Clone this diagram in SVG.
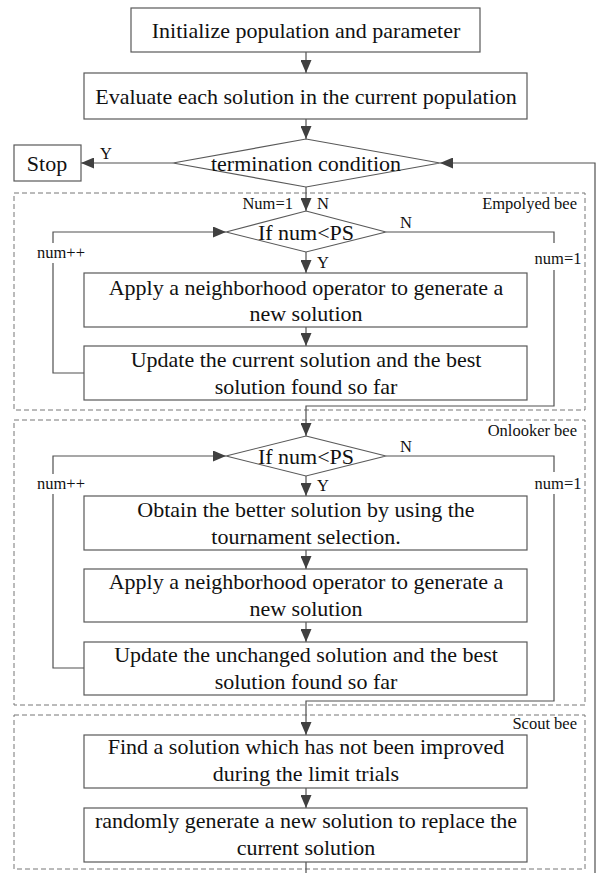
<svg xmlns="http://www.w3.org/2000/svg" width="596" height="873" viewBox="0 0 596 873">
<defs>
<marker id="arr" markerUnits="userSpaceOnUse" markerWidth="13" markerHeight="11" refX="13" refY="5.5" orient="auto">
<path d="M0,0 L13,5.5 L0,11 z" fill="#404040"/>
</marker>
<style>
.box{fill:#fff;stroke:#595959;stroke-width:1.2}
.grp{fill:none;stroke:#777;stroke-width:1;stroke-dasharray:5,3}
.ln{fill:none;stroke:#505050;stroke-width:1.2}
text{font-family:'Liberation Serif','Times New Roman',serif;fill:#111}
.t{font-size:22px;text-anchor:middle}
.s{font-size:16.5px}
.m{text-anchor:middle}
.e{text-anchor:end}
</style>
</defs>
<rect width="596" height="873" fill="#fff"/>

<g id="groups">
<rect class="grp" x="14" y="193" width="571" height="217"/>
<text class="s e" x="577" y="209">Empolyed bee</text>
<rect class="grp" x="14" y="420" width="571" height="285"/>
<text class="s e" x="577" y="436">Onlooker bee</text>
<rect class="grp" x="14" y="715" width="571" height="154"/>
<text class="s e" x="577" y="729">Scout bee</text>
</g>

<g id="connectors">
<path class="ln" d="M306,52 V73" marker-end="url(#arr)"/>
<path class="ln" d="M306,119 V139" marker-end="url(#arr)"/>
<path class="ln" d="M173,163 H81" marker-end="url(#arr)"/>
<path class="ln" d="M595,873 V163 H440" marker-end="url(#arr)"/>
<path class="ln" d="M306,187 V211" marker-end="url(#arr)"/>
<path class="ln" d="M306,252 V273" marker-end="url(#arr)"/>
<path class="ln" d="M306,327 V346" marker-end="url(#arr)"/>
<path class="ln" d="M84,373 H53 V263 M53,243 V232 H226" marker-end="url(#arr)"/>
<path class="ln" d="M386,232 H554 V243 M554,270 V406 H306 V436" marker-end="url(#arr)"/>
<path class="ln" d="M306,476 V496" marker-end="url(#arr)"/>
<path class="ln" d="M306,550 V569" marker-end="url(#arr)"/>
<path class="ln" d="M306,622 V642" marker-end="url(#arr)"/>
<path class="ln" d="M84,668 H53 V494 M53,474 V456 H226" marker-end="url(#arr)"/>
<path class="ln" d="M386,456 H554 V472 M554,494 V701 H306 V735" marker-end="url(#arr)"/>
<path class="ln" d="M306,788 V808" marker-end="url(#arr)"/>
<path class="ln" d="M306,862 V873"/>
<text class="s" x="100" y="159">Y</text>
<text class="s e" x="293" y="209">Num=1</text>
<text class="s" x="317" y="209">N</text>
<text class="s" x="400" y="228">N</text>
<text class="s" x="317" y="268">Y</text>
<text class="s m" x="61" y="258">num++</text>
<text class="s m" x="558" y="264">num=1</text>
<text class="s" x="400" y="452">N</text>
<text class="s" x="317" y="491">Y</text>
<text class="s m" x="61" y="489">num++</text>
<text class="s m" x="558" y="489">num=1</text>
</g>

<g id="init">
<rect class="box" x="131" y="8" width="349" height="44"/>
<text class="t" x="306" y="38">Initialize population and parameter</text>
</g>
<g id="evaluate">
<rect class="box" x="84" y="73" width="443" height="46"/>
<text class="t" x="306" y="104">Evaluate each solution in the current population</text>
</g>
<g id="termination">
<polygon class="box" points="306,139 440,163 306,187 173,163"/>
<text class="t" x="306" y="171">termination condition</text>
</g>
<g id="stop">
<rect class="box" x="14" y="145" width="67" height="36"/>
<text class="t" x="47" y="171">Stop</text>
</g>

<g id="emp-cond">
<polygon class="box" points="306,211 386,232 306,252 226,232"/>
<text class="t" x="306" y="240">If num&lt;PS</text>
</g>
<g id="emp-apply">
<rect class="box" x="84" y="273" width="443" height="54"/>
<text class="t" x="306" y="295">Apply a neighborhood operator to generate a</text>
<text class="t" x="306" y="321">new solution</text>
</g>
<g id="emp-update">
<rect class="box" x="84" y="346" width="443" height="54"/>
<text class="t" x="306" y="367">Update the current solution and the best</text>
<text class="t" x="306" y="394">solution found so far</text>
</g>

<g id="onl-cond">
<polygon class="box" points="306,436 386,456 306,476 226,456"/>
<text class="t" x="306" y="464">If num&lt;PS</text>
</g>
<g id="onl-obtain">
<rect class="box" x="84" y="496" width="443" height="54"/>
<text class="t" x="306" y="517">Obtain the better solution by using the</text>
<text class="t" x="306" y="544">tournament selection.</text>
</g>
<g id="onl-apply">
<rect class="box" x="84" y="569" width="443" height="53"/>
<text class="t" x="306" y="589">Apply a neighborhood operator to generate a</text>
<text class="t" x="306" y="616">new solution</text>
</g>
<g id="onl-update">
<rect class="box" x="84" y="642" width="443" height="53"/>
<text class="t" x="306" y="662">Update the unchanged solution and the best</text>
<text class="t" x="306" y="689">solution found so far</text>
</g>

<g id="scout-find">
<rect class="box" x="84" y="735" width="443" height="53"/>
<text class="t" x="306" y="754">Find a solution which has not been improved</text>
<text class="t" x="306" y="781">during the limit trials</text>
</g>
<g id="scout-random">
<rect class="box" x="84" y="808" width="443" height="54"/>
<text class="t" x="306" y="828">randomly generate a new solution to replace the</text>
<text class="t" x="306" y="855">current solution</text>
</g>
</svg>
